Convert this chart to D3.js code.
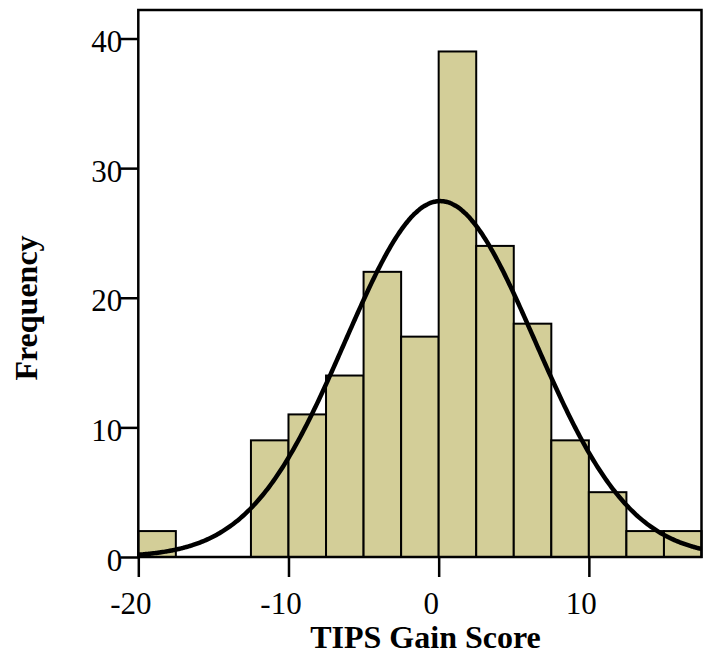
<!DOCTYPE html>
<html>
<head>
<meta charset="utf-8">
<script src="https://cdn.jsdelivr.net/npm/d3@7"></script>
<style>
  html, body { margin: 0; padding: 0; background: #fff; }
  svg { display: block; }
</style>
</head>
<body>
<svg id="chart" width="703" height="656"></svg>
<script>
// ---- data ----
const binStarts = [-20, -17.5, -15, -12.5, -10, -7.5, -5, -2.5, 0, 2.5, 5, 7.5, 10, 12.5, 15];
const binWidth = 2.5;
const counts    = [2, 0, 0, 9, 11, 14, 22, 17, 39, 24, 18, 9, 5, 2, 2];
const xTicks = [-20, -10, 0, 10];
const yTicks = [0, 10, 20, 30, 40];
const curveMean = 0.1;
const curveSD = 6.32;
const xTitle = "TIPS Gain Score";
const yTitle = "Frequency";

// ---- layout ----
const svg = d3.select("#chart");
const pLeft = 138.3, pRight = 701.5, pTop = 10, pBottom = 557;
const x = d3.scaleLinear().domain([-20, 17.5]).range([pLeft, pRight]);
const y = d3.scaleLinear().domain([0, 42.2]).range([pBottom, pTop]);
const font = "'Liberation Serif', 'Times New Roman', serif";

const bins = binStarts.map((s, i) => ({x0: s, x1: s + binWidth, n: counts[i]})).filter(d => d.n > 0);

svg.append("g").selectAll("rect").data(bins).join("rect")
  .attr("x", d => x(d.x0))
  .attr("y", d => y(d.n))
  .attr("width", d => x(d.x1) - x(d.x0))
  .attr("height", d => y(0) - y(d.n))
  .attr("fill", "#d3ce98")
  .attr("stroke", "#000")
  .attr("stroke-width", 2);

// normal curve
const total = d3.sum(counts);
const pts = d3.range(-20, 17.5001, 0.1).map(v => [v,
  total * binWidth / (curveSD * Math.sqrt(2 * Math.PI)) * Math.exp(-0.5 * Math.pow((v - curveMean) / curveSD, 2))]);
svg.append("path")
  .attr("d", d3.line().x(d => x(d[0])).y(d => y(d[1])).curve(d3.curveBasis)(pts))
  .attr("fill", "none")
  .attr("stroke", "#000")
  .attr("stroke-width", 4.5);

// frame
svg.append("rect")
  .attr("x", pLeft).attr("y", pTop)
  .attr("width", pRight - pLeft).attr("height", pBottom - pTop)
  .attr("fill", "none").attr("stroke", "#000").attr("stroke-width", 2.5);

// axes
const xAxis = svg.append("g").attr("transform", `translate(0,${pBottom})`)
  .call(d3.axisBottom(x).tickValues(xTicks).tickFormat(d3.format("d")).tickSize(20).tickPadding(15));
const yAxis = svg.append("g").attr("transform", `translate(${pLeft},0)`)
  .call(d3.axisLeft(y).tickValues(yTicks).tickFormat(d3.format("d")).tickSize(18).tickPadding(-2));
[xAxis, yAxis].forEach(g => {
  g.select(".domain").remove();
  g.selectAll(".tick line").attr("stroke", "#000").attr("stroke-width", 2.5);
  g.selectAll(".tick text").attr("fill", "#000").style("font-family", font).style("font-size", "31px");
});
xAxis.selectAll(".tick text").attr("dx", -8).text(d => d < 0 ? "-" + Math.abs(d) : d);
yAxis.selectAll(".tick text").attr("dy", "0.42em");

// titles
svg.append("text")
  .attr("x", 425.5).attr("y", 648)
  .attr("text-anchor", "middle")
  .style("font-family", font).style("font-size", "32px").style("font-weight", "bold")
  .text(xTitle);
svg.append("text")
  .attr("transform", "translate(37,308) rotate(-90)")
  .attr("text-anchor", "middle")
  .style("font-family", font).style("font-size", "32px").style("font-weight", "bold")
  .text(yTitle);
</script>
</body>
</html>
